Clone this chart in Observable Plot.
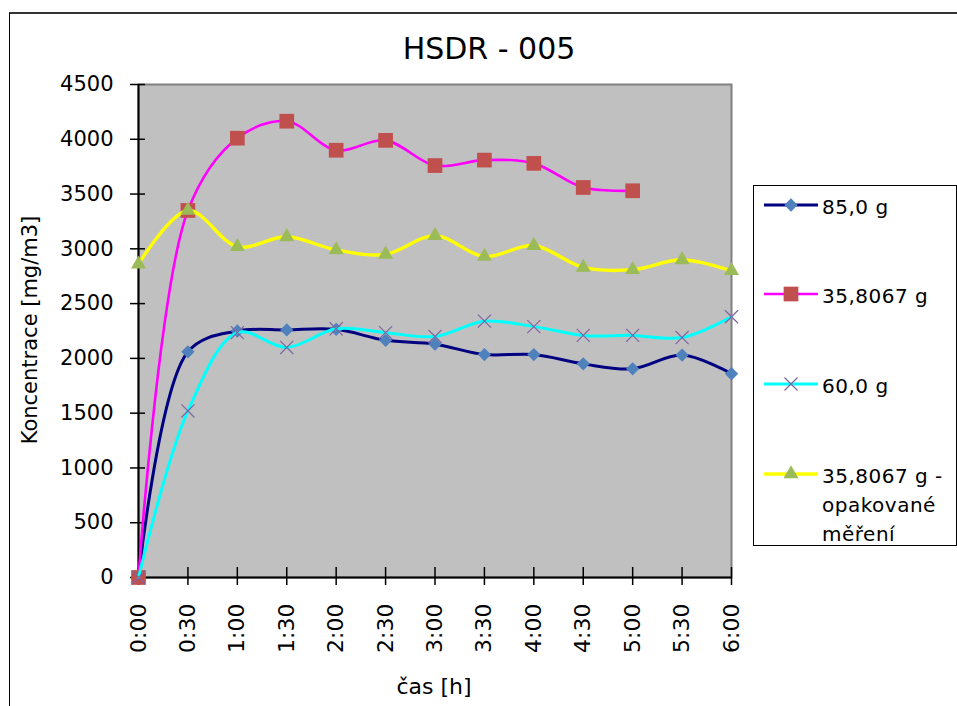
<!DOCTYPE html>
<html>
<head>
<meta charset="utf-8">
<script src="https://cdn.jsdelivr.net/npm/d3@7"></script>
<script src="https://cdn.jsdelivr.net/npm/@observablehq/plot@0.6"></script>
<style>
  body { margin: 0; background: #fff; }
  #wrap { position: relative; width: 957px; height: 706px; overflow: hidden; font-family: "DejaVu Sans", sans-serif; color: #000; }
  #border { position: absolute; left: 9px; top: 12px; width: 1000px; height: 1000px; border-left: 1px solid #000; border-top: 2px solid #333; box-sizing: border-box; }
  #chart { position: absolute; left: 0; top: 0; }
  #title { position: absolute; left: 0; width: 978px; top: 34px; text-align: center; font-size: 30px; line-height: 1; }
  #ytitle { position: absolute; left: 30px; top: 330px; width: 300px; margin-left: -150px; margin-top: -12px; text-align: center; font-size: 21px; line-height: 24px; transform: rotate(-90deg); white-space: nowrap; }
  #xtitle { position: absolute; left: 334px; width: 200px; top: 676px; text-align: center; font-size: 22px; line-height: 1; }
  #legend { position: absolute; left: 753px; top: 185px; width: 204px; height: 361px; border: 1px solid #000; box-sizing: border-box; background: #fff; }
  #legend svg { display: block; }
</style>
</head>
<body>
<div id="wrap">
  <div id="border"></div>
  <div id="chart"></div>
  <div id="title"></div>
  <div id="ytitle"></div>
  <div id="xtitle"></div>
  <div id="legend"></div>
</div>
<script>
// ---- data ----
const chartTitle = "HSDR - 005";
const yTitle = "Koncentrace [mg/m3]";
const xTitle = "čas [h]";
const times = ["0:00","0:30","1:00","1:30","2:00","2:30","3:00","3:30","4:00","4:30","5:00","5:30","6:00"];
const yTicks = [0, 500, 1000, 1500, 2000, 2500, 3000, 3500, 4000, 4500];
const seriesNames = ["85,0 g", "35,8067 g", "60,0 g", "35,8067 g - opakované měření"];
const legendLines = [["85,0 g"], ["35,8067 g"], ["60,0 g"], ["35,8067 g -", "opakované", "měření"]];
const s85 = [0, 2060, 2250, 2260, 2265, 2165, 2130, 2035, 2035, 1950, 1905, 2030, 1860];
const s358 = [0, 3350, 4010, 4165, 3900, 3990, 3760, 3810, 3780, 3560, 3530, null, null];
const s60 = [0, 1520, 2235, 2100, 2270, 2235, 2200, 2340, 2290, 2210, 2210, 2190, 2380];
const s358b = [2860, 3350, 3020, 3110, 2990, 2950, 3120, 2930, 3030, 2830, 2810, 2900, 2800];

// ---- styles ----
const styles = [
  {line: "#000080", width: 3, symbol: "diamond2", r: 6, fill: "#4f81bd", stroke: "none"},
  {line: "#ff00ff", width: 2.6, symbol: "square", r: 8.3, fill: "#c0504d", stroke: "none"},
  {line: "#00ffff", width: 3, symbol: "times", r: 6, fill: "none", stroke: "#8064a2"},
  {line: "#ffff00", width: 3.4, symbol: "triangle", r: 5.6, fill: "#9bbb59", stroke: "none"}
];
const allSeries = [s85, s358, s60, s358b].map((vals, k) => ({
  name: seriesNames[k],
  rows: times.map((t, i) => ({t, v: vals[i]})).filter(d => d.v != null),
  style: styles[k]
}));

const seriesMarks = allSeries.flatMap(s => [
  Plot.line(s.rows, {x: "t", y: "v", stroke: s.style.line, strokeWidth: s.style.width, curve: "catmull-rom"}),
  Plot.dot(s.rows, {x: "t", y: "v", symbol: () => s.style.symbol, r: s.style.r,
    fill: s.style.fill, stroke: s.style.stroke, strokeWidth: 1.2})
]);

const plot = Plot.plot({
  width: 957,
  height: 706,
  marginLeft: 138,
  marginRight: 226,
  marginTop: 84,
  marginBottom: 129,
  style: {background: "transparent", fontFamily: "DejaVu Sans, sans-serif", fontSize: "21px", color: "#000", overflow: "visible"},
  x: {type: "point", domain: times, padding: 0, round: false},
  y: {domain: [0, 4500]},
  symbol: {type: "identity"},
  marks: [
    Plot.frame({fill: "#c0c0c0", stroke: "#808080", strokeWidth: 2}),
    Plot.ruleY([0], {stroke: "#000", strokeWidth: 2}),
    Plot.ruleX([times[0]], {stroke: "#000", strokeWidth: 2}),
    Plot.axisY(yTicks, {tickSize: 15, dx: 7, tickFormat: () => "", label: null, stroke: "#000", strokeWidth: 1.5}),
    Plot.axisY(yTicks, {tickSize: 0, tickPadding: 25, tickFormat: d => String(d), label: null, fontSize: 21, fill: "#000"}),
    Plot.axisX(times, {tickSize: 18, dy: -10, tickFormat: () => "", label: null, stroke: "#000", strokeWidth: 1.5}),
    Plot.axisX(times, {tickSize: 0, tickPadding: 26, tickRotate: -90, label: null, fontSize: 22, fill: "#000"}),
    ...seriesMarks
  ]
});
document.getElementById("chart").appendChild(plot);

document.getElementById("title").textContent = chartTitle;
document.getElementById("ytitle").textContent = yTitle;
document.getElementById("xtitle").textContent = xTitle;

// ---- legend ----
const symbolMap = {diamond2: d3.symbolDiamond2, square: d3.symbolSquare, times: d3.symbolTimes, triangle: d3.symbolTriangle};
const leg = d3.select("#legend").append("svg").attr("width", 202).attr("height", 359);
const entryY = [19, 108, 198, 288];
allSeries.forEach((s, k) => {
  const y = entryY[k];
  const g = leg.append("g").attr("transform", `translate(0,${y})`);
  g.append("line").attr("x1", 10).attr("x2", 64).attr("y1", 0).attr("y2", 0)
    .attr("stroke", s.style.line).attr("stroke-width", s.style.width);
  g.append("path").attr("transform", "translate(37,0)")
    .attr("d", d3.symbol(symbolMap[s.style.symbol], Math.PI * s.style.r * s.style.r)())
    .attr("fill", s.style.fill).attr("stroke", s.style.stroke).attr("stroke-width", 1.2);
  legendLines[k].forEach((txt, j) => {
    g.append("text").attr("x", 68).attr("y", 9 + j * 29)
      .attr("font-family", "DejaVu Sans, sans-serif").attr("font-size", 20)
      .attr("letter-spacing", "0.5px").attr("fill", "#000").text(txt);
  });
});
</script>
</body>
</html>
